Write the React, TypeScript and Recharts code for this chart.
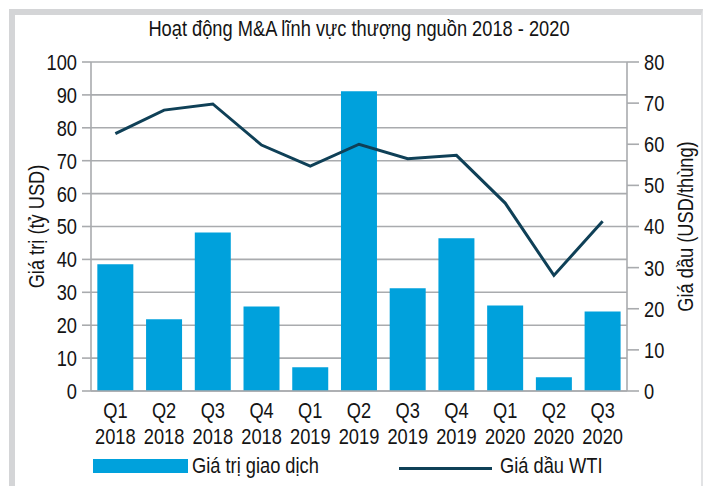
import React from "react";
import {
  Bar,
  CartesianGrid,
  ComposedChart,
  Label,
  Line,
  XAxis,
  YAxis
} from "recharts";

// no condensed face installed: squeeze Liberation Sans horizontally instead
const FONT = "'Liberation Sans', Arial, sans-serif";
const SX = 0.83;
const FS = 22;
const BAR_COLOR = "#00a1dc";
const LINE_COLOR = "#0f4057";
const GRID_COLOR = "#a9abae";
const TEXT_COLOR = "#141414";

const title = "Hoạt động M&A lĩnh vực thượng nguồn 2018 - 2020";
const quarters = [
  "Q1 2018", "Q2 2018", "Q3 2018", "Q4 2018",
  "Q1 2019", "Q2 2019", "Q3 2019", "Q4 2019",
  "Q1 2020", "Q2 2020", "Q3 2020"
];
// giá trị giao dịch, tỷ USD (trục trái)
const dealValue = [38.5, 21.8, 48.2, 25.7, 7.2, 91.1, 31.2, 46.4, 26.0, 4.2, 24.2];
// giá dầu WTI, USD/thùng (trục phải)
const wtiPrice = [62.6, 68.3, 69.8, 59.8, 54.7, 60.0, 56.5, 57.3, 45.7, 28.1, 41.3];
const leftTicks = [0, 10, 20, 30, 40, 50, 60, 70, 80, 90, 100];
const rightTicks = [0, 10, 20, 30, 40, 50, 60, 70, 80];
const separators = [1, 2, 3, 4, 5, 6, 7, 8, 9, 10];

const data = quarters.map((q, i) => ({ quarter: q, deal: dealValue[i], wti: wtiPrice[i] }));

function QuarterTick({ x, y, payload }: any) {
  const [q, yr] = String(payload.value).split(" ");
  return (
    <g transform={`translate(${x},${y}) scale(${SX},1)`}>
      <text x={0} y={0} textAnchor="middle" fill={TEXT_COLOR} fontSize={FS} fontFamily={FONT}>
        <tspan x={0} dy={27}>{q}</tspan>
        <tspan x={0} dy={26}>{yr}</tspan>
      </text>
    </g>
  );
}

function ValueTick({ x, y, payload, textAnchor }: any) {
  return (
    <g transform={`translate(${x},${y}) scale(${SX},1)`}>
      <text x={0} y={0} dy="0.36em" textAnchor={textAnchor} fill={TEXT_COLOR} fontSize={FS} fontFamily={FONT}>
        {payload.value}
      </text>
    </g>
  );
}

function axisTitle(text: string, shift: number) {
  return function AxisTitle({ viewBox }: any) {
    const cx = viewBox.x + viewBox.width / 2 + shift;
    const cy = viewBox.y + viewBox.height / 2;
    return (
      <g transform={`translate(${cx},${cy}) rotate(-90) scale(${SX},1)`}>
        <text x={0} y={0} dy="0.36em" textAnchor="middle" fill={TEXT_COLOR} fontSize={FS} fontFamily={FONT}>
          {text}
        </text>
      </g>
    );
  };
}

const htmlText = (origin: string): React.CSSProperties => ({
  position: "absolute",
  fontSize: FS,
  lineHeight: `${FS}px`,
  whiteSpace: "nowrap",
  transform: `scaleX(${SX})`,
  transformOrigin: origin
});

export default function App() {
  return (
    <div
      style={{
        position: "absolute",
        left: 0,
        top: 0,
        width: 704,
        height: 486,
        background: "#fff",
        overflow: "hidden",
        fontFamily: FONT,
        color: TEXT_COLOR
      }}
    >
      {/* khung viền xám */}
      <div
        style={{
          position: "absolute",
          left: 9,
          top: 9,
          right: 1,
          bottom: -10,
          borderTop: "6px solid #d4d5d7",
          borderLeft: "6px solid #d4d5d7",
          borderRight: "2px solid #e2e3e5"
        }}
      />
      <div style={{ ...htmlText("center"), left: 91, width: 536, top: 18, textAlign: "center" }}>
        {title}
      </div>

      <div style={{ position: "absolute", left: 0, top: 0 }}>
        <ComposedChart
          width={704}
          height={486}
          data={data}
          margin={{ top: 62, right: 0, bottom: 0, left: 0 }}
          barCategoryGap="13%"
        >
          <CartesianGrid
            yAxisId="left"
            vertical={false}
            stroke={GRID_COLOR}
            strokeWidth={1.6}
          />
          <XAxis
            xAxisId="sep"
            type="number"
            domain={[0, 11]}
            ticks={separators}
            interval={0}
            mirror
            height={0}
            tick={false}
            tickSize={7}
            axisLine={false}
            tickLine={{ stroke: GRID_COLOR, strokeWidth: 1.6 }}
          />
          <XAxis
            dataKey="quarter"
            interval={0}
            height={95}
            tickSize={0}
            tickMargin={0}
            tickLine={false}
            axisLine={{ stroke: GRID_COLOR, strokeWidth: 1.6 }}
            tick={<QuarterTick />}
          />
          <YAxis
            yAxisId="left"
            width={91}
            domain={[0, 100]}
            ticks={leftTicks}
            interval={0}
            tickSize={9}
            tickMargin={5}
            axisLine={{ stroke: GRID_COLOR, strokeWidth: 1.6 }}
            tickLine={{ stroke: GRID_COLOR, strokeWidth: 1.6 }}
            tick={<ValueTick />}
          >
            <Label content={axisTitle("Giá trị (tỷ USD)", -9)} />
          </YAxis>
          <YAxis
            yAxisId="right"
            orientation="right"
            width={77}
            domain={[0, 80]}
            ticks={rightTicks}
            interval={0}
            tickSize={12}
            tickMargin={5}
            axisLine={{ stroke: GRID_COLOR, strokeWidth: 1.6 }}
            tickLine={{ stroke: GRID_COLOR, strokeWidth: 1.6 }}
            tick={<ValueTick />}
          >
            <Label content={axisTitle("Giá dầu (USD/thùng)", 20)} />
          </YAxis>
          <Bar
            yAxisId="left"
            dataKey="deal"
            name="Giá trị giao dịch"
            fill={BAR_COLOR}
            isAnimationActive={false}
          />
          <Line
            yAxisId="right"
            dataKey="wti"
            name="Giá dầu WTI"
            type="linear"
            stroke={LINE_COLOR}
            strokeWidth={3}
            dot={false}
            activeDot={false}
            isAnimationActive={false}
          />
        </ComposedChart>
      </div>

      {/* chú thích */}
      <div style={{ position: "absolute", left: 93, top: 459, width: 95, height: 14, background: BAR_COLOR }} />
      <div style={{ ...htmlText("left"), left: 192, top: 455 }}>Giá trị giao dịch</div>
      <div style={{ position: "absolute", left: 399, top: 466.5, width: 93, height: 3, background: LINE_COLOR }} />
      <div style={{ ...htmlText("left"), left: 500, top: 455 }}>Giá dầu WTI</div>
    </div>
  );
}
